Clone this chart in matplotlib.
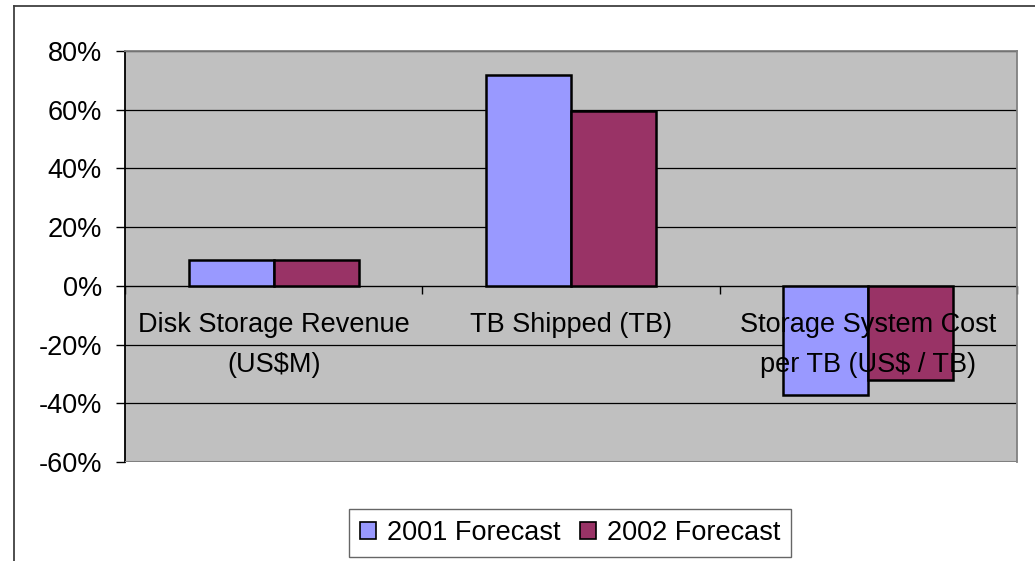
import matplotlib
matplotlib.use("Agg")
import matplotlib.pyplot as plt
from matplotlib.lines import Line2D
from matplotlib.patches import Patch
import numpy as np

categories = ["Disk Storage Revenue\n(US$M)", "TB Shipped (TB)", "Storage System Cost\nper TB (US$ / TB)"]
series_names = ["2001 Forecast", "2002 Forecast"]
values_2001 = [8.7, 71.9, -37.1]
values_2002 = [8.7, 59.5, -32.0]
yticks = [-60, -40, -20, 0, 20, 40, 60, 80]
colors = ["#9999FF", "#993366"]

plt.rcParams['font.family'] = ['Liberation Sans', 'DejaVu Sans']
FS = 19.5

W, H = 1035, 561
fig = plt.figure(figsize=(W / 100, H / 100), dpi=100)
fig.patch.set_facecolor("white")
ax = fig.add_axes([125 / W, 1 - 462 / H, (1017 - 125) / W, (462 - 51) / H])
ax.set_facecolor("#C0C0C0")

x = np.arange(len(categories))
w = 1 / 3.5
for i, (vals, c) in enumerate(zip([values_2001, values_2002], colors)):
    ax.bar(x + (i - 0.5) * w, vals, width=w, color=c, edgecolor="black",
           linewidth=1.8, zorder=3, label=series_names[i])

ax.set_xlim(-0.5, len(categories) - 0.5)
ax.set_ylim(-60, 80)
ax.set_yticks(yticks)
ax.set_yticklabels([f"{v}%" for v in yticks], fontsize=FS)
ax.yaxis.grid(True, color="black", linewidth=0.9, zorder=1)
ax.set_axisbelow(True)
ax.tick_params(axis='y', length=6.5, width=1, color="black", pad=10)

# x axis at zero
ax.spines['bottom'].set_position(('data', 0))
ax.spines['bottom'].set_color("black")
ax.spines['bottom'].set_zorder(2)
ax.set_xticks(np.arange(len(categories) + 1) - 0.5)
ax.set_xticklabels([])
ax.tick_params(axis='x', length=6, width=1, color="black", direction="out")
ax.spines['left'].set_color("black")
ax.spines['left'].set_linewidth(1.3)
for s in ['top', 'right']:
    ax.spines[s].set_color("#808080")
    ax.spines[s].set_linewidth(1.3)
# bottom border of plot area
ax.axhline(-60, color="#808080", linewidth=1.5, zorder=4)

for xi, cat in zip(x, categories):
    ax.annotate(cat, xy=(xi, 0), xytext=(0, -19), textcoords="offset points",
                ha="center", va="top", fontsize=FS, zorder=6, linespacing=1.7)

handles = [Patch(facecolor=c, edgecolor="black", linewidth=1.2) for c in colors]
leg = fig.legend(handles, series_names, loc="center", bbox_to_anchor=(570 / W, 1 - 533 / H),
                 ncol=2, fontsize=FS, frameon=True, fancybox=False, handlelength=0.6,
                 handleheight=0.6, handletextpad=0.4, columnspacing=0.7,
                 borderpad=0.4, borderaxespad=0, edgecolor="#404040")
leg.get_frame().set_linewidth(1.0)

# chart outer border
fig.add_artist(Line2D([14 / W, 1.0], [1 - 6 / H, 1 - 6 / H], color="#404040", linewidth=1.3,
                      transform=fig.transFigure))
fig.add_artist(Line2D([14 / W, 14 / W], [0, 1 - 6 / H], color="#404040", linewidth=1.3,
                      transform=fig.transFigure))

fig.savefig("out.png", dpi=100)
